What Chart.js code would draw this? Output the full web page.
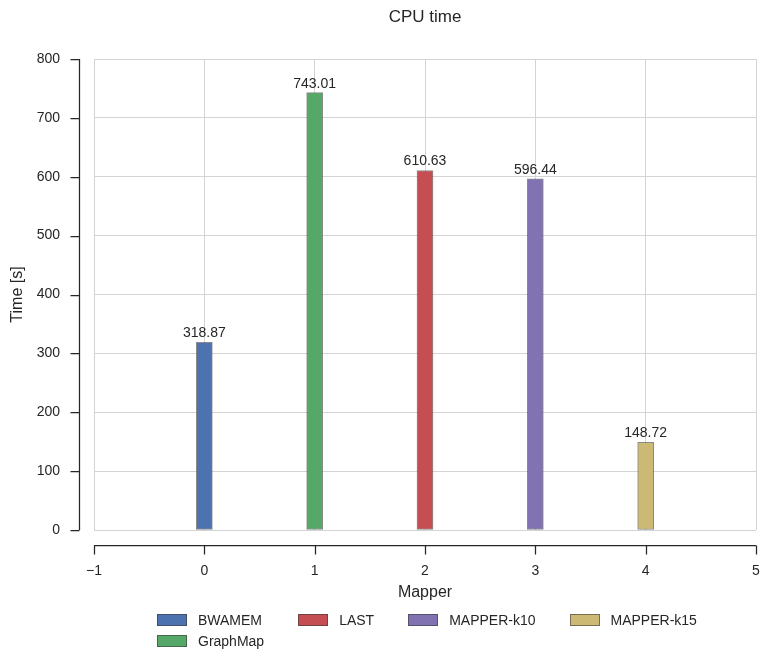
<!DOCTYPE html>
<html>
<head>
<meta charset="utf-8">
<title>CPU time</title>
<script src="https://cdn.jsdelivr.net/npm/chart.js@4.4.0/dist/chart.umd.min.js"></script>
<style>
  html, body { margin: 0; padding: 0; background: #fff; }
  #wrap { position: relative; width: 761px; height: 653px; }
  #cpuChart { display: block; }
  #legend {
    position: absolute; left: 157px; top: 609px;
    display: grid; grid-template-rows: 21.5px 21.5px; column-gap: 34px;
    font: 14px "Liberation Sans", Arial, sans-serif; color: #262626;
  }
  .legend-item { display: flex; align-items: center; white-space: nowrap; }
  .legend-box { width: 28px; height: 10px; border: 1px solid rgba(60,60,60,0.6); margin-right: 11px; }
</style>
</head>
<body>
<div id="wrap">
  <canvas id="cpuChart" width="761" height="653"></canvas>
  <div id="legend"></div>
</div>
<script>
// data
const mappers = ['BWAMEM', 'GraphMap', 'LAST', 'MAPPER-k10', 'MAPPER-k15'];
const positions = [0, 1, 2, 3, 4];
const cpuTimes = [318.87, 743.01, 610.63, 596.44, 148.72];
const colors = ['#4C72B0', '#55A868', '#C44E52', '#8172B2', '#CCB974'];
const xTicks = [-1, 0, 1, 2, 3, 4, 5];
const yTicks = [0, 100, 200, 300, 400, 500, 600, 700, 800];

const textColor = '#262626';
const fontFamily = '"Liberation Sans", Arial, sans-serif';
const spineOffset = 15;
const tickLen = 9;

// value labels above the bars
const barLabels = {
  id: 'barLabels',
  afterDatasetsDraw(chart) {
    const ctx = chart.ctx;
    ctx.save();
    ctx.font = '14px ' + fontFamily;
    ctx.fillStyle = textColor;
    ctx.textAlign = 'center';
    ctx.textBaseline = 'alphabetic';
    chart.data.datasets.forEach((ds, i) => {
      const meta = chart.getDatasetMeta(i);
      meta.data.forEach((bar, j) => {
        ctx.fillText(ds.data[j].y.toFixed(2), bar.x, bar.y - 5);
      });
    });
    ctx.restore();
  }
};

// seaborn style offset spines (despine with offset)
const offsetSpines = {
  id: 'offsetSpines',
  afterDraw(chart) {
    const { ctx, chartArea, scales } = chart;
    const x = scales.x, y = scales.y;
    ctx.save();
    ctx.strokeStyle = textColor;
    ctx.lineWidth = 1.25;
    ctx.beginPath();
    // left spine
    const sx = Math.round(chartArea.left - spineOffset) + 0.5;
    ctx.moveTo(sx, y.getPixelForValue(yTicks[yTicks.length - 1]));
    ctx.lineTo(sx, y.getPixelForValue(yTicks[0]));
    yTicks.forEach(v => {
      const py = Math.round(y.getPixelForValue(v)) + 0.5;
      ctx.moveTo(sx, py);
      ctx.lineTo(sx - tickLen, py);
    });
    // bottom spine
    const sy = Math.round(chartArea.bottom + spineOffset) + 0.5;
    ctx.moveTo(x.getPixelForValue(xTicks[0]), sy);
    ctx.lineTo(x.getPixelForValue(xTicks[xTicks.length - 1]), sy);
    xTicks.forEach(v => {
      const px = Math.round(x.getPixelForValue(v)) + 0.5;
      ctx.moveTo(px, sy);
      ctx.lineTo(px, sy + tickLen);
    });
    ctx.stroke();
    ctx.restore();
  }
};

const datasets = mappers.map((name, i) => ({
  label: name,
  data: [{ x: positions[i], y: cpuTimes[i] }],
  backgroundColor: colors[i],
  borderColor: 'rgba(60,60,60,0.6)',
  borderWidth: 1,
  borderSkipped: false,
  barThickness: 16
}));

Chart.defaults.font.family = fontFamily;
Chart.defaults.color = textColor;

new Chart(document.getElementById('cpuChart'), {
  type: 'bar',
  data: { datasets },
  options: {
    responsive: false,
    animation: false,
    grouped: false,
    layout: { padding: { left: 0, right: 5, top: 0, bottom: 51 } },
    plugins: {
      legend: { display: false },
      tooltip: { enabled: false },
      title: {
        display: true,
        text: 'CPU time',
        fullSize: false,
        color: textColor,
        font: { size: 17, weight: 'normal' },
        padding: { top: 7, bottom: 31.6 }
      }
    },
    scales: {
      x: {
        type: 'linear',
        min: -1,
        max: 5,
        offset: false,
        afterBuildTicks: s => { s.ticks = xTicks.map(v => ({ value: v })); },
        afterFit: s => { s.height = 72; },
        // transparent tick marks act as the label gap (the real ticks sit on the offset spine)
        grid: { color: '#d4d4d4', lineWidth: 1, drawTicks: true, tickLength: 33, tickColor: 'rgba(0,0,0,0)', offset: false },
        border: { display: false },
        ticks: {
          padding: 0,
          font: { size: 14 },
          color: textColor,
          callback: v => (v < 0 ? '\u2212' + Math.abs(v) : String(v))
        },
        title: {
          display: true, text: 'Mapper', color: textColor,
          font: { size: 16 }, padding: { top: 0, bottom: 0 }
        }
      },
      y: {
        min: 0,
        max: 800,
        afterBuildTicks: s => { s.ticks = yTicks.map(v => ({ value: v })); },
        afterFit: s => { s.width = 94; },
        grid: { color: '#d4d4d4', lineWidth: 1, drawTicks: true, tickLength: 34, tickColor: 'rgba(0,0,0,0)' },
        border: { display: false },
        ticks: { padding: 0, font: { size: 14 }, color: textColor },
        title: {
          display: true, text: 'Time [s]', color: textColor,
          font: { size: 16 }, padding: { top: 8, bottom: 0 }
        }
      }
    }
  },
  plugins: [barLabels, offsetSpines]
});

// legend laid out column-first like matplotlib (ncol = 4)
const legendEl = document.getElementById('legend');
const ncol = 4;
const base = Math.floor(mappers.length / ncol);
const extra = mappers.length % ncol;
let idx = 0;
for (let c = 0; c < ncol; c++) {
  const count = base + (c < extra ? 1 : 0);
  for (let r = 0; r < count; r++, idx++) {
    const item = document.createElement('div');
    item.className = 'legend-item';
    item.style.gridColumn = String(c + 1);
    item.style.gridRow = String(r + 1);
    const box = document.createElement('span');
    box.className = 'legend-box';
    box.style.background = colors[idx];
    const label = document.createElement('span');
    label.textContent = mappers[idx];
    item.appendChild(box);
    item.appendChild(label);
    legendEl.appendChild(item);
  }
}
</script>
</body>
</html>
